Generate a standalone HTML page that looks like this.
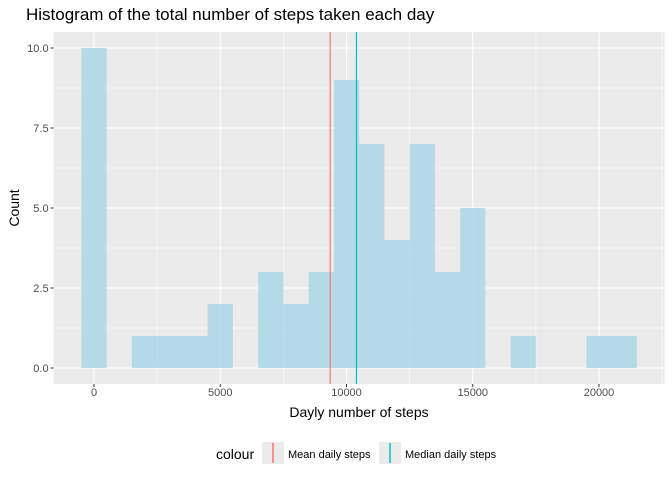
<!DOCTYPE html>
<html><head><meta charset="utf-8"><style>body{margin:0;background:#fff}svg{display:block;font-family:"Liberation Sans",sans-serif}</style></head>
<body>
<svg id="chart" width="672" height="480">
<text x="26" y="20" font-size="17" fill="#000">Histogram of the total number of steps taken each day</text>
<rect x="53.6" y="32" width="611" height="352" fill="#ebebeb"/>
<g id="grid"></g><g id="bars"></g><g id="lines"></g><g id="axes"></g>
<text x="359" y="417" font-size="14" text-anchor="middle">Dayly number of steps</text>
<text transform="translate(19,208) rotate(-90)" font-size="14" text-anchor="middle">Count</text>
<g>
<text x="216" y="459" font-size="14">colour</text>
<rect x="262" y="442" width="22" height="22" fill="#ebebeb"/>
<line x1="273" x2="273" y1="443" y2="463" stroke="#F8766D" stroke-width="1.5"/>
<text x="288" y="458" font-size="11">Mean daily steps</text>
<rect x="379" y="442" width="22" height="22" fill="#ebebeb"/>
<line x1="390" x2="390" y1="443" y2="463" stroke="#00BFC4" stroke-width="1.5"/>
<text x="405" y="458" font-size="11">Median daily steps</text>
</g>
</svg>
<script>
const binCenters=[0,1000,2000,3000,4000,5000,6000,7000,8000,9000,10000,11000,12000,13000,14000,15000,16000,17000,18000,19000,20000,21000];
const counts=[10,0,1,1,1,2,0,3,2,3,9,7,4,7,3,5,0,1,0,0,1,1];
const xTicks=[0,5000,10000,15000,20000];
const yTicks=[0,2.5,5,7.5,10];
const yTickLabels=["0.0","2.5","5.0","7.5","10.0"];
const meanSteps=[9354];
const medianSteps=[10395];
const binWidth=1000;
const NS="http://www.w3.org/2000/svg";
const X=v=>94+(v)*0.02525;
const Y=v=>368-v*32;
const PT=32,PB=384,PL=53.6,PR=664.6;
function mk(tag,attrs,parent){const e=document.createElementNS(NS,tag);for(const k in attrs)e.setAttribute(k,attrs[k]);document.getElementById(parent).appendChild(e);return e;}
// minor grid
for(let i=0;i<xTicks.length;i++){const m=xTicks[i]+2500;if(X(m)<PR){const l=mk('line',{x1:X(m),x2:X(m),y1:PT,y2:PB,stroke:'#fff','stroke-width':0.5},'grid');}}
for(let i=0;i<yTicks.length-1;i++){const m=(yTicks[i]+yTicks[i+1])/2;const l=mk('line',{x1:PL,x2:PR,y1:Y(m),y2:Y(m),stroke:'#fff','stroke-width':0.5},'grid');}
xTicks.forEach(t=>{const l=mk('line',{x1:X(t),x2:X(t),y1:PT,y2:PB,stroke:'#fff','stroke-width':1.1},'grid');
const k=mk('line',{x1:X(t),x2:X(t),y1:PB,y2:PB+3,stroke:'#333'},'axes');
const tx=mk('text',{x:X(t),y:PB+12,'font-size':11,'text-anchor':'middle',fill:'#4d4d4d'},'axes');tx.textContent=t;});
yTicks.forEach((t,i)=>{const l=mk('line',{x1:PL,x2:PR,y1:Y(t),y2:Y(t),stroke:'#fff','stroke-width':1.1},'grid');
const k=mk('line',{x1:PL-3,x2:PL,y1:Y(t),y2:Y(t),stroke:'#333'},'axes');
const tx=mk('text',{x:PL-5,y:Y(t)+4,'font-size':11,'text-anchor':'end',fill:'#4d4d4d'},'axes');tx.textContent=yTickLabels[i];});
binCenters.forEach((c,i)=>{if(counts[i]<=0)return;const x0=X(c-binWidth/2),x1=X(c+binWidth/2);
const r=mk('rect',{x:x0,y:Y(counts[i]),width:x1-x0,height:Y(0)-Y(counts[i]),fill:'#add8e6','fill-opacity':0.9},'bars');});
meanSteps.forEach(v=>{const l=mk('line',{x1:X(v),x2:X(v),y1:PT,y2:PB,stroke:'#F8766D','stroke-width':1.2},'lines');});
medianSteps.forEach(v=>{const l=mk('line',{x1:X(v),x2:X(v),y1:PT,y2:PB,stroke:'#00BFC4','stroke-width':1.2},'lines');});
</script>
</body></html>
